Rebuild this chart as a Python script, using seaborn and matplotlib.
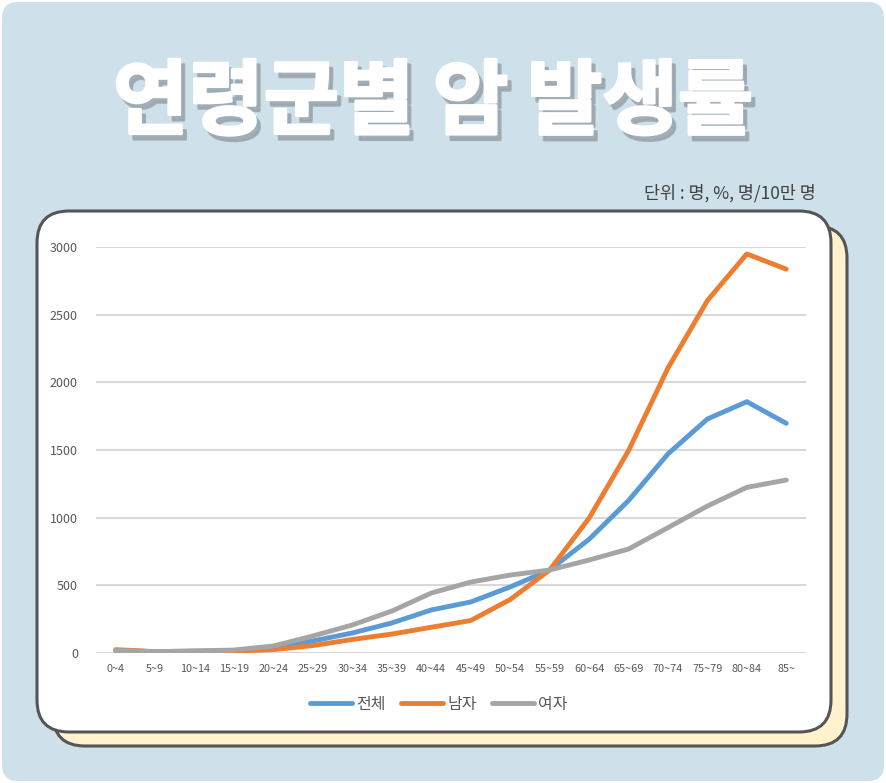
import matplotlib
matplotlib.use("Agg")
import matplotlib.pyplot as plt
import matplotlib.patheffects as pe
from matplotlib.patches import FancyBboxPatch
import seaborn as sns
import pandas as pd

# ---- data ----
age_groups = ["0~4", "5~9", "10~14", "15~19", "20~24", "25~29", "30~34", "35~39",
              "40~44", "45~49", "50~54", "55~59", "60~64", "65~69", "70~74",
              "75~79", "80~84", "85~"]
total = [18, 10, 14, 15, 37, 89, 148, 222, 318, 377, 488, 613, 840, 1126, 1471, 1729, 1857, 1697]
male = [25, 10, 12, 14, 25, 55, 100, 140, 190, 240, 395, 613, 996, 1495, 2105, 2604, 2949, 2836]
female = [18, 10, 15, 22, 52, 126, 207, 310, 443, 524, 576, 613, 687, 768, 926, 1086, 1224, 1278]
series_names = ["전체", "남자", "여자"]
colors = ["#5b9bd5", "#ed7d31", "#a5a5a5"]
title_text = "연령군별 암 발생률"
unit_text = "단위 : 명, %, 명/10만 명"

rows = []
for name, vals in zip(series_names, [total, male, female]):
    for i, v in enumerate(vals):
        rows.append({"idx": i, "age": age_groups[i], "value": v, "series": name})
df = pd.DataFrame(rows)

sns.set_theme(style="white")
plt.rcParams["font.family"] = ["Noto Sans CJK KR", "DejaVu Sans"]

W, H = 886, 783
fig = plt.figure(figsize=(W / 100, H / 100), dpi=100)
fig.patch.set_facecolor("white")

# background decoration axes in pixel coordinates
bg = fig.add_axes([0, 0, 1, 1], zorder=0)
bg.set_xlim(0, W)
bg.set_ylim(H, 0)
bg.axis("off")
bg.add_patch(FancyBboxPatch((2, 2), W - 4, H - 4, boxstyle="round,pad=0,rounding_size=16",
                            facecolor="#cee0ea", edgecolor="none"))
bg.add_patch(FancyBboxPatch((53, 226), 794, 520, boxstyle="round,pad=0,rounding_size=32",
                            facecolor="#fff2cc", edgecolor="#555555", linewidth=2.2))
bg.add_patch(FancyBboxPatch((37, 211), 794, 521, boxstyle="round,pad=0,rounding_size=32",
                            facecolor="white", edgecolor="#555555", linewidth=2.2))

# title with shadow
shadow = "#9aa6ae"
bg.text(433, 104, title_text, ha="center", va="center", fontsize=59, fontweight="black",
        color="white",
        path_effects=[pe.SimplePatchShadow(offset=(3, -4), shadow_rgbFace=shadow, alpha=0.85),
                      pe.SimpleLineShadow(offset=(3, -4), shadow_color=shadow, alpha=0.85,
                                          linewidth=2),
                      pe.Stroke(linewidth=2, foreground="white"),
                      pe.Normal()])
bg.text(816, 193, unit_text, ha="right", va="center", fontsize=12.5, color="#404040")

# main chart
ax = fig.add_axes([96 / W, 1 - 653 / H, (806 - 96) / W, (653 - 247) / H], zorder=2)
ax.set_facecolor("none")
sns.lineplot(data=df, x="idx", y="value", hue="series", hue_order=series_names,
             palette=colors, linewidth=3.5, ax=ax, sort=False,
             solid_capstyle="round", solid_joinstyle="round")
ax.set_xlim(-0.5, len(age_groups) - 0.5)
ax.set_ylim(0, 3000)
ax.set_yticks(range(0, 3001, 500))
ax.set_xticks(range(len(age_groups)))
ax.set_xticklabels(age_groups)
ax.tick_params(axis="y", labelsize=9, colors="#595959", length=0, pad=13)
ax.tick_params(axis="x", labelsize=7.8, colors="#595959", length=0, pad=8)
ax.yaxis.grid(True, color="#d9d9d9", linewidth=1.5)
ax.xaxis.grid(False)
for s in ax.spines.values():
    s.set_visible(False)
ax.set_xlabel("")
ax.set_ylabel("")

handles, labels = ax.get_legend_handles_labels()
for h in handles:
    h.set_linewidth(3.5)
    h.set_solid_capstyle("round")
ax.legend(handles, labels, loc="center", bbox_to_anchor=(439 / W, 1 - 704 / H),
          bbox_transform=fig.transFigure, ncol=3, frameon=False, fontsize=11.5,
          handlelength=2.6, handletextpad=0.25, columnspacing=1.0, labelcolor="#595959")

fig.savefig("out.png", dpi=100, facecolor=fig.get_facecolor())
